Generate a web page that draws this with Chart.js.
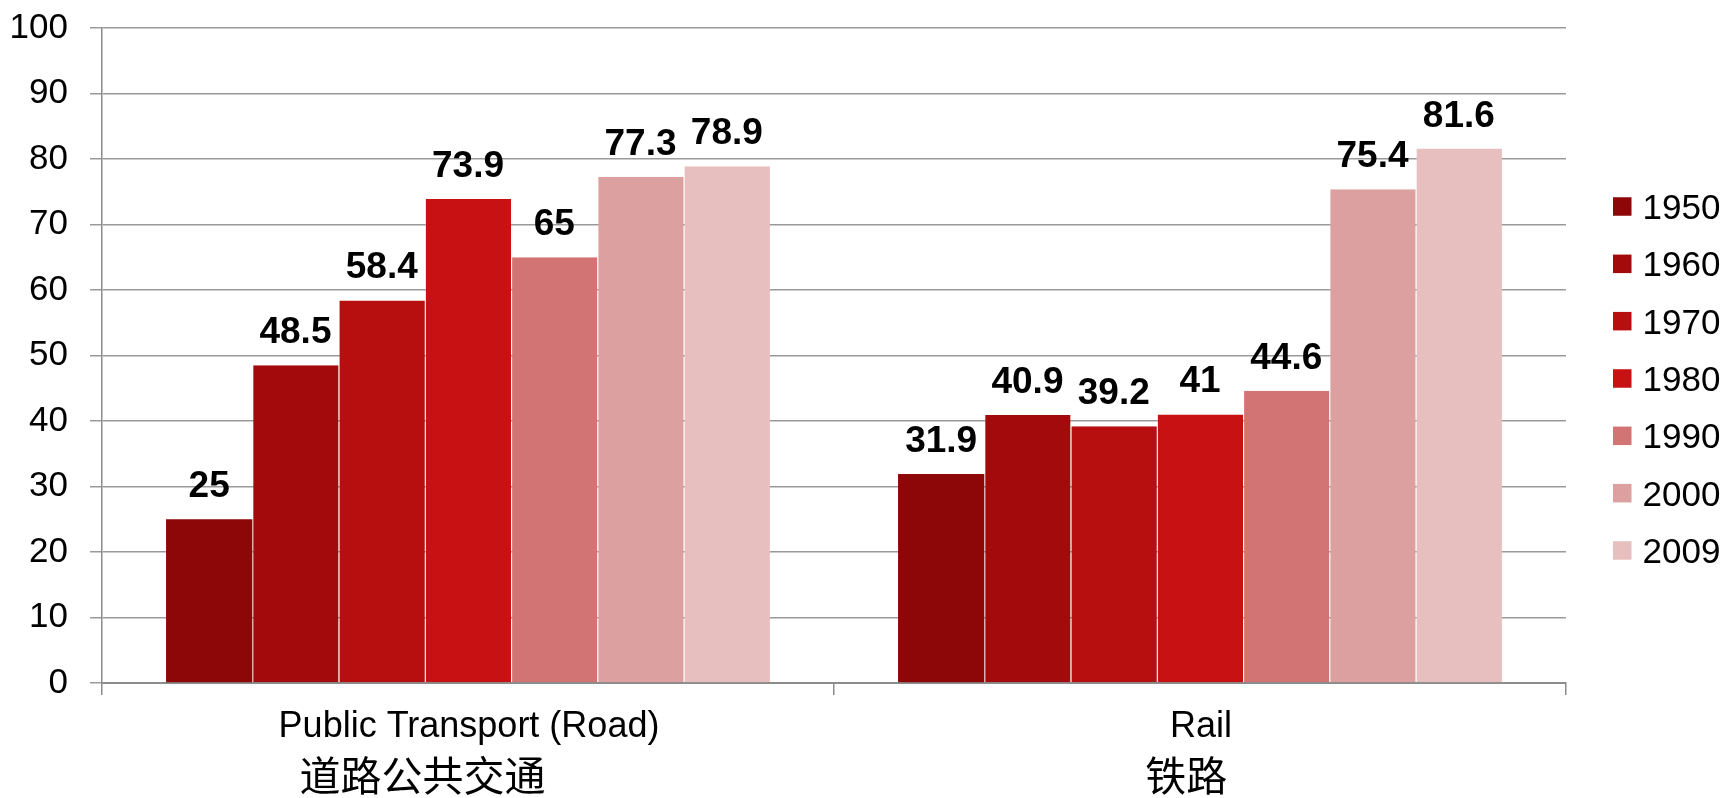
<!DOCTYPE html>
<html>
<head>
<meta charset="utf-8">
<script src="https://cdn.jsdelivr.net/npm/chart.js@4/dist/chart.umd.min.js"></script>
<style>
  html, body { margin: 0; padding: 0; background: #ffffff; }
  #wrap { width: 1727px; height: 798px; }
</style>
</head>
<body>
<div id="wrap"><canvas id="chart" width="1727" height="798"></canvas></div>
<script>
// Categories: English name + Chinese name
const categoriesEn = ['Public Transport (Road)', 'Rail'];
const categoriesZh = ['道路公共交通\u3000\u3000 ', '铁路   '];

// Survey years (one series per year)
const years = ['1950', '1960', '1970', '1980', '1990', '2000', '2009'];

// Values per year for each category
const roadValues = [25, 48.5, 58.4, 73.9, 65, 77.3, 78.9];
const railValues = [31.9, 40.9, 39.2, 41, 44.6, 75.4, 81.6];

// Y-axis ticks
const yMin = 0;
const yMax = 100;
const yStep = 10;

const yearColors = ['#8e0708', '#a30a0b', '#b70f10', '#c81112', '#d27473', '#dca0a0', '#e7bfbf'];

const datasets = years.map((y, i) => ({
  label: y,
  data: [roadValues[i], railValues[i]],
  backgroundColor: yearColors[i],
  borderColor: 'rgba(255,255,255,0.22)',
  borderWidth: { left: i === 0 ? 0 : 1, right: 0, top: 0, bottom: 0 },
  borderSkipped: false,
  categoryPercentage: 0.825,
  barPercentage: 1.0
}));

// Value labels above each bar
const valueLabels = {
  id: 'valueLabels',
  afterDatasetsDraw(chart) {
    const ctx = chart.ctx;
    ctx.save();
    ctx.font = 'bold 37px "Liberation Sans", Arial, sans-serif';
    ctx.fillStyle = '#000000';
    ctx.textAlign = 'center';
    ctx.textBaseline = 'alphabetic';
    chart.data.datasets.forEach((ds, di) => {
      const meta = chart.getDatasetMeta(di);
      meta.data.forEach((bar, i) => {
        ctx.fillText(String(ds.data[i]), bar.x, bar.y - 22);
      });
    });
    ctx.restore();
  }
};

// Two-line category labels (Latin + Chinese) under the x axis
const categoryLabels = {
  id: 'categoryLabels',
  afterDraw(chart) {
    const ctx = chart.ctx;
    const xs = chart.scales.x;
    ctx.save();
    ctx.fillStyle = '#000000';
    ctx.textAlign = 'center';
    chart.data.labels.forEach((lab, i) => {
      const x = xs.getPixelForValue(i);
      ctx.textBaseline = 'alphabetic';
      ctx.font = '36px "Liberation Sans", Arial, sans-serif';
      ctx.fillText(categoriesEn[i], x + 1, 737);
      ctx.textBaseline = 'middle';
      ctx.font = '41px "Noto Sans CJK SC", sans-serif';
      ctx.fillText(categoriesZh[i], x, 775);
    });
    ctx.restore();
  }
};

// Legend on the right: colour square + year
const sideLegend = {
  id: 'sideLegend',
  afterDraw(chart) {
    const ctx = chart.ctx;
    ctx.save();
    ctx.font = '35px "Liberation Sans", Arial, sans-serif';
    ctx.textAlign = 'left';
    ctx.textBaseline = 'alphabetic';
    chart.data.datasets.forEach((ds, i) => {
      const cy = 206.5 + i * 57.33;
      ctx.fillStyle = ds.backgroundColor;
      ctx.fillRect(1613, cy - 9.25, 18.5, 18.5);
      ctx.fillStyle = '#000000';
      ctx.fillText(ds.label, 1642.5, cy + 12.5);
    });
    ctx.restore();
  }
};

new Chart(document.getElementById('chart'), {
  type: 'bar',
  data: { labels: categoriesEn, datasets },
  plugins: [valueLabels, categoryLabels, sideLegend],
  options: {
    responsive: false,
    animation: false,
    layout: { padding: { left: 10, right: 161, top: 28, bottom: 103 } },
    plugins: {
      legend: { display: false },
      tooltip: { enabled: false }
    },
    scales: {
      x: {
        offset: true,
        ticks: { display: false },
        grid: {
          offset: true,
          drawOnChartArea: false,
          drawTicks: true,
          tickLength: 12,
          color: '#8c8c8c',
          lineWidth: 1.5
        },
        border: { display: true, color: '#8c8c8c', width: 2 }
      },
      y: {
        min: yMin,
        max: yMax,
        afterFit(scale) {
          scale.width = 92;
          scale.paddingTop = 0;
          scale.paddingBottom = 0;
        },
        ticks: {
          stepSize: yStep,
          padding: 22,
          color: '#000000',
          font: { family: '"Liberation Sans", Arial, sans-serif', size: 35 }
        },
        grid: {
          drawTicks: true,
          tickLength: 12,
          color: '#9a9a9a',
          lineWidth: 1.5
        },
        border: { display: true, color: '#8c8c8c', width: 1.5 }
      }
    }
  }
});
</script>
</body>
</html>
